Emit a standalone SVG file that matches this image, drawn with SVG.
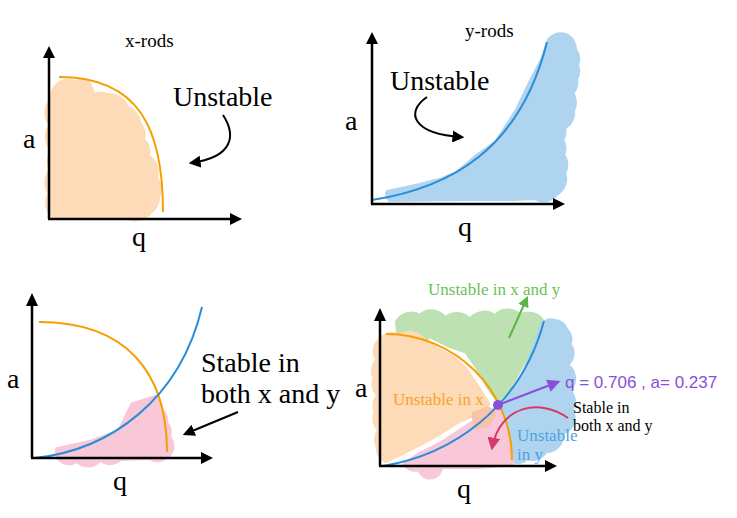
<svg xmlns="http://www.w3.org/2000/svg" width="737" height="518" viewBox="0 0 737 518">
<style>
.ax{stroke:#000;stroke-width:2.5;fill:none}
.ah{fill:#000}
.t{font-family:"Liberation Serif","Times New Roman",serif;fill:#000}
.big{font-size:28px}
.mid{font-size:19px}
.sm{font-size:17px}
.blob{stroke-linejoin:round;stroke-width:6}
.peach{fill:#FDDAB8;stroke:#FDDAB8}
.blue{fill:#AFD4EF;stroke:#AFD4EF}
.green{fill:#BEE1B3;stroke:#BEE1B3}
.pink{fill:#F9C8D8;stroke:#F9C8D8}
.oc{stroke:#F5A000;stroke-width:2;fill:none}
.bc{stroke:#2A8DD8;stroke-width:2;fill:none}
</style>
<defs>
<marker id="mk" viewBox="0 0 10 10" refX="8" refY="5" markerWidth="12" markerHeight="12" markerUnits="userSpaceOnUse" orient="auto"><path d="M0,0 L10,5 L0,10 z" fill="#000"/></marker>
<marker id="mg" viewBox="0 0 10 10" refX="8" refY="5" markerWidth="11" markerHeight="11" markerUnits="userSpaceOnUse" orient="auto"><path d="M0,0 L10,5 L0,10 z" fill="#5BB545"/></marker>
<marker id="mp" viewBox="0 0 10 10" refX="8" refY="5" markerWidth="13" markerHeight="13" markerUnits="userSpaceOnUse" orient="auto"><path d="M0,0 L10,5 L0,10 z" fill="#8A4FD6"/></marker>
<marker id="mr" viewBox="0 0 10 10" refX="8" refY="5" markerWidth="13" markerHeight="13" markerUnits="userSpaceOnUse" orient="auto"><path d="M0,0 L10,5 L0,10 z" fill="#D63A6A"/></marker>
</defs>

<g id="panel-x-rods">
<path class="blob peach" d="M53,100 A18,18 0 0 1 60,84 A18,18 0 0 1 75,83 A18,18 0 0 1 88,84 L93,96 A18,18 0 0 1 107,96 A18,18 0 0 1 126,108 A18,18 0 0 1 138,123 A18,18 0 0 1 142,140 A18,18 0 0 1 147,157 A18,18 0 0 1 155,178 A18,18 0 0 1 157,197 A18,18 0 0 1 150,211 A18,18 0 0 1 125,215 L100,216 L54,216 A18,18 0 0 1 51,193 A18,18 0 0 1 52,170 A18,18 0 0 1 54,150 A18,18 0 0 1 52,125 A18,18 0 0 1 53,100 Z"/>
<path class="oc" d="M59,77 C140,77 163,130 163,212"/>
<line class="ax" x1="49" y1="219" x2="49" y2="57"/>
<polygon class="ah" points="43,58 55,58 49,46"/>
<line class="ax" x1="48" y1="219" x2="231" y2="219"/>
<polygon class="ah" points="230,213 230,225 242,219"/>
<text class="t mid" x="125" y="47">x-rods</text>
<text class="t big" x="173" y="106">Unstable</text>
<text class="t big" x="23" y="148">a</text>
<text class="t big" x="132" y="246">q</text>
</g>

<g id="panel-y-rods">
<path class="blob blue" d="M388,193 L420,186 L440,181 L457,174 L477,157 L497,143 L508,126 L518,110 L530,85 L543,60 L550,40 A16,16 0 0 1 566,36 A16,16 0 0 1 574,50 A16,16 0 0 1 576,65 A16,16 0 0 1 575,79 A16,16 0 0 1 571,93 A16,16 0 0 1 572,110 A16,16 0 0 1 563,127 A16,16 0 0 1 561,140 A16,16 0 0 1 562,155 A16,16 0 0 1 563,173 A16,16 0 0 1 556,193 A16,16 0 0 1 535,197 L513,198 L463,198 L390,199 A8,8 0 0 1 388,193 Z"/>
<path class="bc" d="M372,200 C450,188 520,150 547,42"/>
<line class="ax" x1="372" y1="204" x2="372" y2="43"/>
<polygon class="ah" points="366,44 378,44 372,32"/>
<line class="ax" x1="371" y1="204" x2="554" y2="204"/>
<polygon class="ah" points="553,198 553,210 565,204"/>
<text class="t mid" x="465" y="37">y-rods</text>
<text class="t big" x="390" y="90">Unstable</text>
<text class="t big" x="345" y="130">a</text>
<text class="t big" x="458" y="236">q</text>
</g>

<g id="panel-stable">
<path class="blob pink" d="M58,450 L90,443 L120,432 L133,405 L155,398 A14,14 0 0 1 160,410 A14,14 0 0 1 165,423 A14,14 0 0 1 168,437 A14,14 0 0 1 171,449 A14,14 0 0 1 150,457 L120,458 A14,14 0 0 1 100,458 A14,14 0 0 1 77,459 A12,12 0 0 1 59,457 Z"/>
<path class="oc" d="M39,322 C126,322 167,372 167,452"/>
<path class="bc" d="M35,458 C110,450 180,400 202,307"/>
<line class="ax" x1="32" y1="458" x2="32" y2="305"/>
<polygon class="ah" points="26,306 38,306 32,293"/>
<line class="ax" x1="31" y1="458" x2="202" y2="458"/>
<polygon class="ah" points="201,452 201,464 213,458"/>
<text class="t big" x="7" y="388">a</text>
<text class="t big" x="113" y="490">q</text>
<text class="t big" x="201" y="372">Stable in</text>
<text class="t big" x="201" y="403">both x and y</text>
</g>

<g id="panel-combined">
<path class="blob green" d="M398,322 A16,16 0 0 1 420,317 A16,16 0 0 1 445,320 A16,16 0 0 1 470,322 A16,16 0 0 1 495,318 A16,16 0 0 1 520,317 A16,16 0 0 1 542,322 L533,343 L520,367 L507,390 L498,399 L490,388 L480,370 L467,351 L450,345 L440,340 L427,334 A12,12 0 0 1 399,331 Z"/>
<path class="blob peach" d="M381,340 A16,16 0 0 1 400,337 A16,16 0 0 1 420,338 L437,350 L452,358 L464,369 L474,383 L483,397 L487,404 L473,414 L455,422 L440,432 L420,443 L400,453 L386,460 A14,14 0 0 1 379,447 A14,14 0 0 1 381,430 A14,14 0 0 1 377,412 A14,14 0 0 1 380,395 A14,14 0 0 1 376,378 A14,14 0 0 1 379,360 A14,14 0 0 1 381,340 Z"/>
<path class="blob blue" d="M543,325 A12,12 0 0 1 555,322 A12,12 0 0 1 565,330 A12,12 0 0 1 568,345 A12,12 0 0 1 563,365 A14,14 0 0 1 567,390 A14,14 0 0 1 570,410 A14,14 0 0 1 560,432 A14,14 0 0 1 545,450 A14,14 0 0 1 527,457 A12,12 0 0 1 513,460 L509,445 L506,425 L503,408 L512,393 L522,380 L528,365 L534,350 L540,335 Z"/>
<path class="blob pink" d="M406,464 L420,455 L440,445 L460,432 L478,420 L493,411 L500,412 L505,430 L509,450 L511,463 L480,466 L440,466 A10,10 0 0 1 420,467 A10,10 0 0 1 406,464 Z"/>
<path d="M474,414 L488,409 L494,414 L488,424 L476,427 Z" fill="#F8C3A8" stroke="#F8C3A8" stroke-width="5" stroke-linejoin="round"/>
<path class="oc" d="M386,334 C455,334 512,390 512,460"/>
<path class="bc" d="M383,466 C450,455 520,410 544,321"/>
<line class="ax" x1="380" y1="466" x2="380" y2="320"/>
<polygon class="ah" points="374,321 386,321 380,308"/>
<line class="ax" x1="379" y1="466" x2="546" y2="466"/>
<polygon class="ah" points="545,460 545,472 557,466"/>
<text class="t big" x="355" y="397">a</text>
<text class="t big" x="457" y="498">q</text>
<text class="t sm" x="428" y="295" style="fill:#6CBF55">Unstable in x and y</text>
<text class="t sm" x="393" y="405" style="fill:#F5A623">Unstable in x</text>
<text class="t sm" x="517" y="441" style="fill:#4DA3E0">Unstable</text>
<text class="t sm" x="517" y="460" style="fill:#4DA3E0">in y</text>
<text class="t" x="573" y="413" font-size="16">Stable in</text>
<text class="t" x="573" y="431" font-size="16">both x and y</text>
<text x="565" y="388" font-family="'Liberation Sans',Arial,sans-serif" font-size="17" fill="#8A4FD6">q = 0.706 , a= 0.237</text>
<circle cx="498" cy="405" r="5" fill="#8A4FD6"/>
</g>

<g id="connectors">
<path d="M223,115 C236,135 234,157 191,163" stroke="#000" stroke-width="2" fill="none" marker-end="url(#mk)"/>
<path d="M427,97 C405,112 412,134 462,137" stroke="#000" stroke-width="2" fill="none" marker-end="url(#mk)"/>
<path d="M238,412 L185,434" stroke="#000" stroke-width="2" fill="none" marker-end="url(#mk)"/>
<path d="M509,338 L527,298" stroke="#5BB545" stroke-width="2" fill="none" marker-end="url(#mg)"/>
<path d="M498,405 L558,382" stroke="#8A4FD6" stroke-width="2" fill="none" marker-end="url(#mp)"/>
<path d="M568,418 C540,398 500,405 492,448" stroke="#D63A6A" stroke-width="2" fill="none" marker-end="url(#mr)"/>
</g>
</svg>
